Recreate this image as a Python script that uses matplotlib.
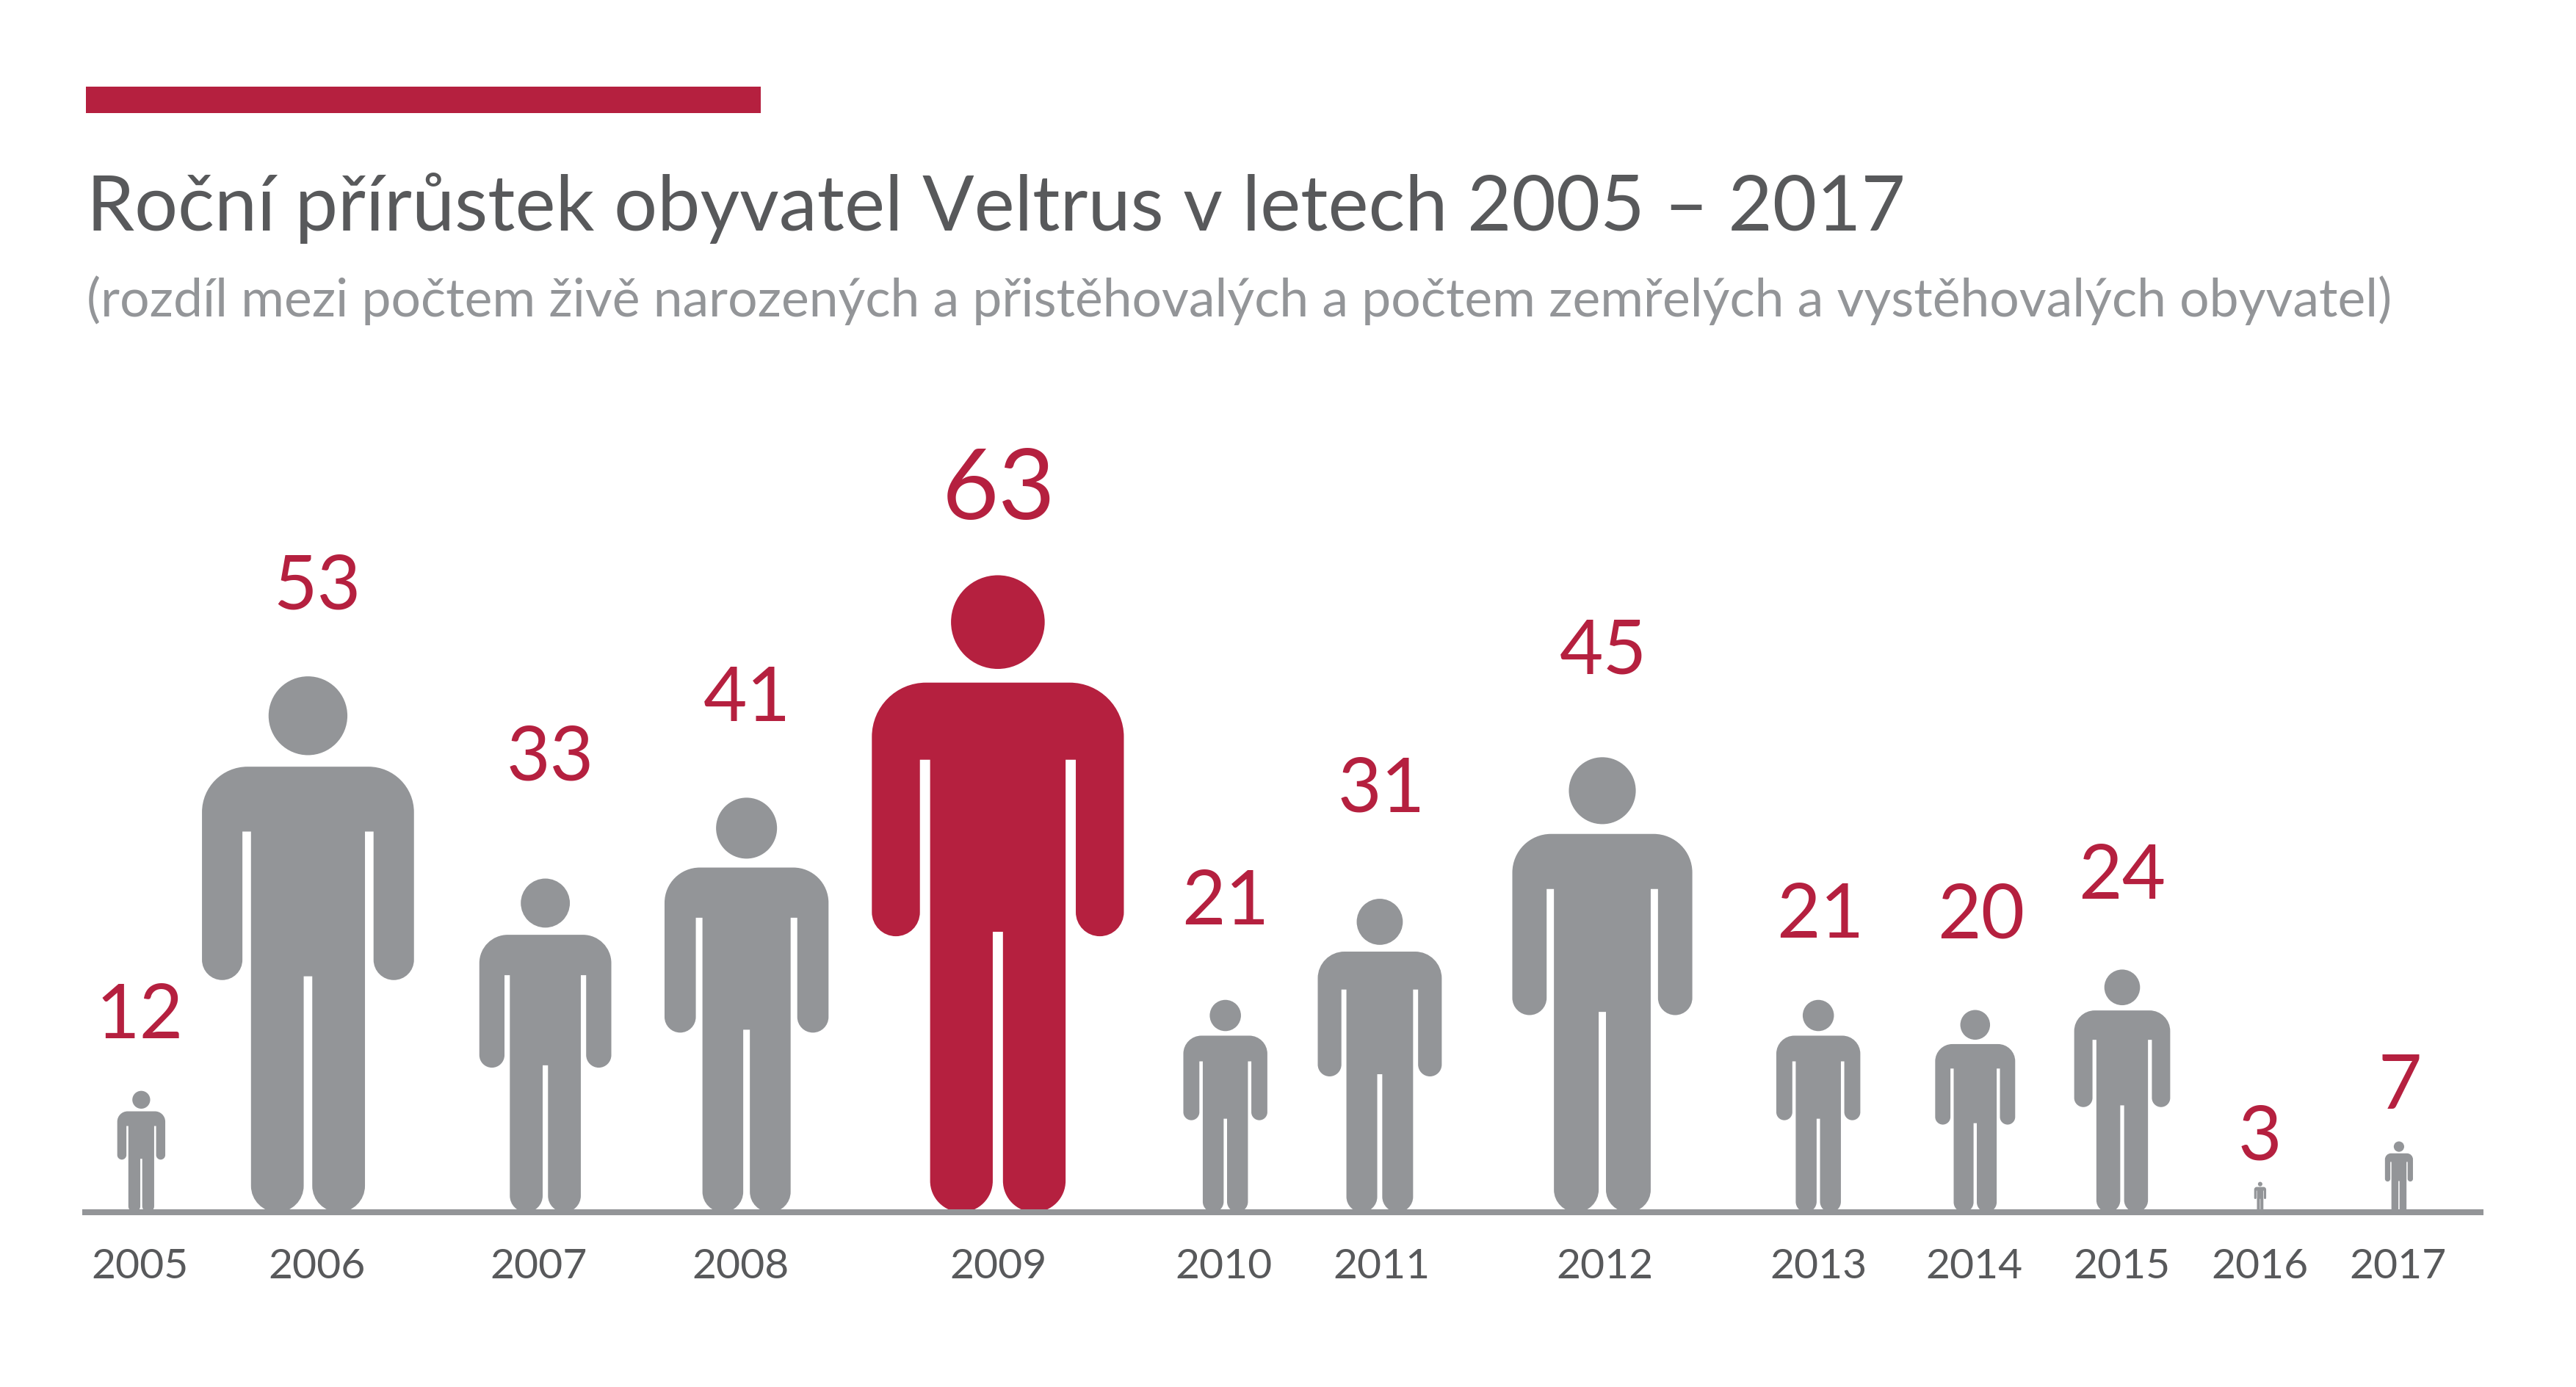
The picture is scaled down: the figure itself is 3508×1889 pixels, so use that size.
import numpy as np
import matplotlib
matplotlib.use("Agg")
import matplotlib.pyplot as plt
from matplotlib.path import Path
from matplotlib.patches import PathPatch, Rectangle

# ---- data ----
years = [2005, 2006, 2007, 2008, 2009, 2010, 2011, 2012, 2013, 2014, 2015, 2016, 2017]
values = [12, 53, 33, 41, 63, 21, 31, 45, 21, 20, 24, 3, 7]
title = "Roční přírůstek obyvatel Veltrus v letech 2005 – 2017"
subtitle = "(rozdíl mezi počtem živě narozených a přistěhovalých a počtem zemřelých a vystěhovalých obyvatel)"

# ---- layout (pixels of a 3508x1890 canvas) ----
S = 3400 / 1520
person_x = [v * S for v in [86, 187.5, 332, 454.5, 607.5, 746, 840, 975.5, 1107, 1202.5, 1292, 1376, 1460.5]]
year_x = [v * S for v in [85, 193, 328, 451, 608, 745, 841, 977, 1107, 1202, 1292, 1376, 1460]]
val_x = [v * S for v in [85, 193, 335, 455, 608, 746, 841, 976, 1108, 1206, 1292, 1376, 1461]]
val_base = [v * S for v in [632, 371, 475, 439, 316, 563, 494, 410, 571, 571, 547, 706, 675]]
BASE = 738.5 * S
UNIT = 388 * S / 63  # pixels of figure height per person of growth

RED = "#b5203f"
GREY = "#939598"
DARK = "#58595b"
FONT = ["Lato", "DejaVu Sans"]

fig = plt.figure(figsize=(35.08, 18.90), dpi=100, facecolor="white")
ax = fig.add_axes([0, 0, 1, 1])
ax.set_xlim(0, 3508)
ax.set_ylim((BASE - 1890) / UNIT, BASE / UNIT)
ax.axis("off")


def py(pixel):
    return (BASE - pixel) / UNIT


# ---- person pictogram, height 1 ----
BW, AI, TH, GAP = .1977, .1223, .1063, .008
SH, PIT, AB, CR = .831, .71, .433, .44
R, RA, RL = .085, (BW - AI) / 2, (TH - GAP) / 2
K = 0.5523


def corner(p0, c, p1):
    p0, c, p1 = map(np.array, (p0, c, p1))
    return [tuple(p0 + K * (c - p0)), tuple(p1 + K * (c - p1)), tuple(p1)]


v = [(-BW, AB + RA), (-BW, SH - R)]
c = [Path.MOVETO, Path.LINETO]


def add_c(p0, ctrl, p1):
    v.extend(corner(p0, ctrl, p1))
    c.extend([Path.CURVE4] * 3)


def add_l(p):
    v.append(p)
    c.append(Path.LINETO)


add_c((-BW, SH - R), (-BW, SH), (-BW + R, SH))
add_l((BW - R, SH))
add_c((BW - R, SH), (BW, SH), (BW, SH - R))
add_l((BW, AB + RA))
add_c((BW, AB + RA), (BW, AB), (BW - RA, AB))
add_c((BW - RA, AB), (AI, AB), (AI, AB + RA))
add_l((AI, PIT))
add_l((TH, PIT))
add_l((TH, RL))
add_c((TH, RL), (TH, 0), (TH - RL, 0))
add_c((TH - RL, 0), (GAP, 0), (GAP, RL))
add_l((GAP, CR))
add_l((-GAP, CR))
add_l((-GAP, RL))
add_c((-GAP, RL), (-GAP, 0), (-GAP - RL, 0))
add_c((-GAP - RL, 0), (-TH, 0), (-TH, RL))
add_l((-TH, PIT))
add_l((-AI, PIT))
add_l((-AI, AB + RA))
add_c((-AI, AB + RA), (-AI, AB), (-AI - RA, AB))
add_c((-AI - RA, AB), (-BW, AB), (-BW, AB + RA))
add_l((-BW, AB + RA))
body = Path(v, c)
head = Path.circle((0, .926), .0735)
PERSON = Path.make_compound_path(body, head)

for year, val, cx, yx, vx, vb in zip(years, values, person_x, year_x, val_x, val_base):
    col = RED if val == max(values) else GREY
    verts = PERSON.vertices.copy()
    verts[:, 0] = cx + verts[:, 0] * val * UNIT
    verts[:, 1] = verts[:, 1] * val
    ax.add_patch(PathPatch(Path(verts, PERSON.codes), fc=col, ec="none", zorder=2))
    ax.text(yx, py(1741), str(year), ha="center", va="baseline", color=DARK,
            fontsize=41, family=FONT)
    ax.text(vx, py(vb), str(val), ha="center", va="baseline", color=RED,
            fontsize=96 if val == max(values) else 74, family=FONT)

# baseline rule and accent bar
ax.plot([50 * S, 1512 * S], [py(BASE), py(BASE)], color=GREY, lw=5.8, solid_capstyle="butt", zorder=3)
ax.add_patch(Rectangle((117, py(155)), 919, py(119) - py(155), fc=RED, ec="none"))


def fit_text(y_px, text, color, width_px, start):
    t = ax.text(118, py(y_px), text, ha="left", va="baseline", color=color, fontsize=start,
                family=FONT)
    w = t.get_window_extent(fig.canvas.get_renderer()).width
    t.set_fontsize(start * width_px / w)


fit_text(314, title, DARK, 1108 * S, 90)
fit_text(431, subtitle, GREY, 1405 * S, 55)

fig.savefig("out.png", dpi=100, facecolor="white")
